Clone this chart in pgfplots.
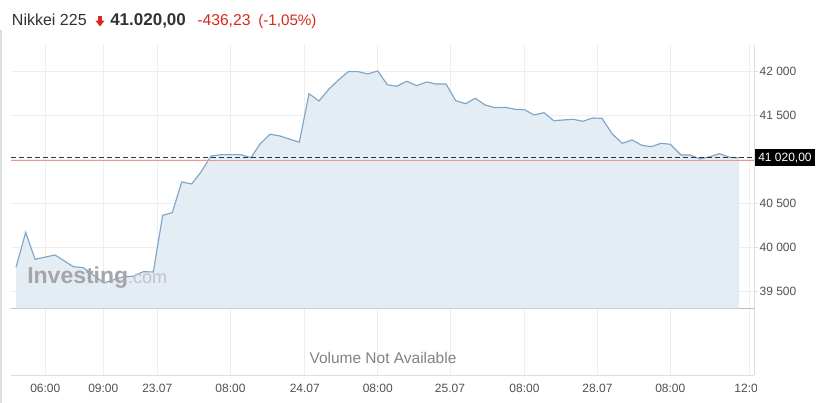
\documentclass[border=0pt]{standalone}
\usepackage{fontspec}
\setmainfont{Liberation Sans}
\usepackage{pgfplots}
\pgfplotsset{compat=1.18}
\usepackage{pgfplotstable}

\definecolor{linec}{RGB}{125,165,200}
\definecolor{fillc}{RGB}{228,236,244}
\definecolor{gridc}{RGB}{238,238,240}
\definecolor{basec}{RGB}{185,190,196}
\definecolor{borderc}{RGB}{222,222,226}
\definecolor{tickc}{RGB}{80,80,80}
\definecolor{hdrc}{RGB}{50,50,50}
\definecolor{redc}{RGB}{214,40,30}
\definecolor{redline}{RGB}{236,150,150}
\definecolor{volc}{RGB}{130,130,130}
\definecolor{wm1}{RGB}{165,165,170}
\definecolor{wm2}{RGB}{195,195,200}

\pgfplotstableread{
x y
16 39777
25.7 40175
35 39868
55 39917
73.3 39784
83.3 39773
104 39599
123.3 39670
133.3 39675
143.3 39727
153.3 39724
162.7 40368
172.3 40398
181.7 40747
191.7 40724
201 40860
211 41042
221.7 41057
240.7 41057
251 41023
260 41178
270 41289
280 41269
299.3 41198
309 41750
319 41667
329 41803
339.3 41914
348.3 42000
358.3 42000
367.7 41974
377.7 42008
387.3 41852
396.7 41834
406.7 41891
416.7 41841
426.7 41883
436 41860
446 41860
455.7 41670
465.7 41636
475.3 41698
485 41622
494.7 41591
505 41595
515 41573
525 41565
534 41508
544 41534
553.7 41443
563.3 41451
573.3 41459
582.7 41436
592.7 41474
602 41470
612.3 41292
622.3 41186
632 41224
641.7 41164
651.3 41148
661 41186
670.3 41175
681 41053
690 41053
700 41008
710 41034
719.3 41068
730 41027
739 41020
}\nikkei

\begin{document}
\begin{tikzpicture}
\path[use as bounding box] (0pt,0pt) rectangle (619.5pt,-302.25pt);
\draw[borderc, line width=1pt] (0.75pt,-22.5pt) -- (0.75pt,-302.25pt);

% volume panel
\begin{axis}[
  at={(8.25pt,-281.25pt)}, anchor=south west,
  scale only axis, width=557.25pt, height=50pt,
  xmin=11, xmax=754, ymin=0, ymax=1,
  ytick=\empty,
  xtick={45.3,103.3,157.3,230.5,304.8,377.8,450,524.5,597.5,670.3,749.5},
  xticklabels={06:00,09:00,23.07,08:00,24.07,08:00,25.07,08:00,28.07,08:00,12:00},
  xmajorgrids, grid style={gridc, line width=0.6pt},
  axis x line*=bottom, axis y line*=right,
  axis line style={-, draw=borderc, line width=0.75pt},
  xtick style={draw=none},
  xticklabel style={font=\fontsize{9pt}{10pt}\selectfont, text=tickc, anchor=base, inner sep=0pt, yshift=-13pt},
]
\addplot[draw=none] coordinates {(11,0) (754,0)};
\end{axis}

% price panel
\begin{axis}[
  at={(8.25pt,-231.225pt)}, anchor=south west,
  scale only axis, width=557.25pt, height=197.475pt,
  xmin=11, xmax=754, ymin=39311, ymax=42303,
  scaled y ticks=false,
  xtick={45.3,103.3,157.3,230.5,304.8,377.8,450,524.5,597.5,670.3,749.5},
  xticklabel=\empty,
  ytick={39500,40000,40500,41000,41500,42000},
  yticklabels={39 500,40 000,40 500,,41 500,42 000},
  grid=major, grid style={gridc, line width=0.6pt},
  axis x line*=bottom, axis y line*=right,
  x axis line style={-, draw=basec, line width=0.9pt},
  y axis line style={-, draw=borderc, line width=0.75pt},
  xtick style={draw=none},
  ytick style={draw=borderc, line width=0.6pt},
  tick align=outside, major tick length=3pt,
  yticklabel style={font=\fontsize{9pt}{10pt}\selectfont, text=tickc, anchor=west, inner sep=0pt, xshift=1pt},
]
\addplot[fill=fillc, draw=none] table[x=x, y=y] {\nikkei} \closedcycle;
\addplot[linec, line width=0.85pt] table[x=x, y=y] {\nikkei};
\draw[redline, line width=0.5pt] (axis cs:11,40993) -- (axis cs:754,40993);
\draw[black!80, line width=0.75pt, dash pattern=on 3.5pt off 2.5pt] (axis cs:11,41020) -- (axis cs:754,41020);
\coordinate (lbl) at (axis cs:754,41020);
\end{axis}

\node[fill=black, text=white, anchor=west, inner xsep=2.6pt, inner ysep=0pt, minimum height=12.75pt,
  font=\fontsize{9pt}{10pt}\selectfont] at ([xshift=0.4pt]lbl) {41 020,00};

% cover clipped label part
\fill[white] (568.1pt,-283.5pt) rectangle (619.5pt,-302.25pt);

% header
\node[anchor=base west, inner sep=0pt, text=hdrc, font=\fontsize{12pt}{14pt}\selectfont] at (8.8pt,-19.5pt) {Nikkei 225};
\fill[redc] (73.3pt,-12.3pt) rectangle (76.7pt,-15.9pt);
\fill[redc] (71.6pt,-15.5pt) -- (78.4pt,-15.5pt) -- (75pt,-19.8pt) -- cycle;
\node[anchor=base west, inner sep=0pt, text=hdrc, font=\bfseries\fontsize{12.75pt}{14pt}\selectfont] at (82.5pt,-19.5pt) {41.020,00};
\node[anchor=base west, inner sep=0pt, text=redc, font=\fontsize{11.8pt}{14pt}\selectfont] at (147.75pt,-19.5pt) {-436,23};
\node[anchor=base west, inner sep=0pt, text=redc, font=\fontsize{11.4pt}{14pt}\selectfont] at (193.5pt,-19.5pt) {(-1,05\%)};

% watermark
\node[anchor=base west, inner sep=0pt] at (20.25pt,-212.5pt)
  {\color{wm1}\bfseries\fontsize{17.25pt}{18pt}\selectfont Investing\color{wm2}\mdseries\fontsize{13.5pt}{14pt}\selectfont .com};

% volume text
\node[anchor=base, inner sep=0pt, text=volc, font=\fontsize{11.6pt}{13pt}\selectfont] at (287.25pt,-272.8pt) {Volume Not Available};
\end{tikzpicture}
\end{document}
